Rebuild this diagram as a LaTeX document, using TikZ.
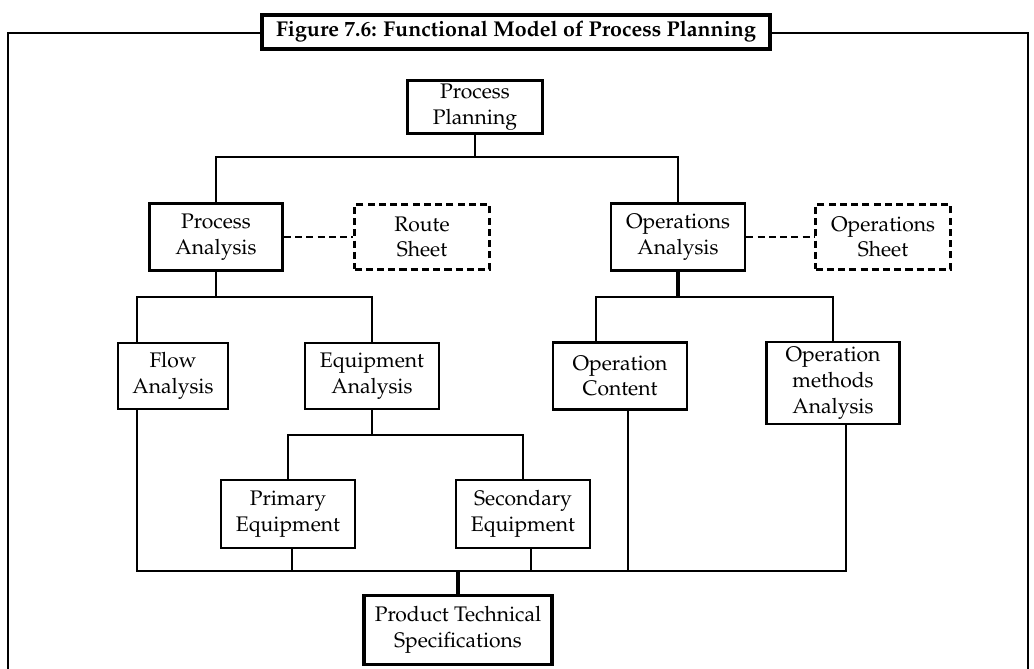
\documentclass[tikz,border=0pt]{standalone}
\usepackage[T1]{fontenc}
\usepackage{mathpazo}
\usepackage{tikz}
\usetikzlibrary{positioning, calc}

\begin{document}
\begin{tikzpicture}[x=0.02cm, y=-0.02cm,
    box/.style={draw, line width=1.5pt, fill=white, align=center, inner sep=0pt,
                font=\fontsize{12}{14.7}\selectfont},
    sheetbox/.style={box, dash pattern=on 4pt off 2.4pt},
    conn/.style={line width=1.5pt},
    thickconn/.style={line width=2.3pt},
    dashconn/.style={line width=1.5pt, dash pattern=on 4pt off 2.4pt}]
    \useasboundingbox (0,0) rectangle (1034,669);

    % outer frame
    \draw[conn] (8,669) -- (8,33) -- (1028,33) -- (1028,669);
    \node[box, line width=1.9pt, minimum width=10.16cm, minimum height=0.68cm,
          font=\fontsize{12.2}{14}\selectfont\bfseries] (title) at (516,32)
          {Figure 7.6: Functional Model of Process Planning};

    \node[box, minimum width=2.7cm, minimum height=1.06cm] (plan) at (475,107) {Process\\Planning};

    \node[box, minimum width=2.66cm, minimum height=1.34cm] (procan) at (216,237) {Process\\Analysis};
    \node[sheetbox, minimum width=2.7cm, minimum height=1.3cm] (route) at (422,237) {Route\\Sheet};
    \node[box, minimum width=2.68cm, minimum height=1.34cm] (opsan) at (678,237) {Operations\\Analysis};
    \node[sheetbox, minimum width=2.7cm, minimum height=1.3cm] (opsheet) at (883,237) {Operations\\Sheet};

    \node[box, minimum width=2.2cm, minimum height=1.32cm] (flow) at (173,376) {Flow\\Analysis};
    \node[box, minimum width=2.68cm, minimum height=1.32cm] (equip) at (372,376) {Equipment\\Analysis};
    \node[box, minimum width=2.68cm, minimum height=1.34cm] (opcont) at (620,376) {Operation\\Content};
    \node[box, minimum width=2.66cm, minimum height=1.64cm] (opmeth) at (833,383) {Operation\\methods\\Analysis};

    \node[box, minimum width=2.68cm, minimum height=1.36cm] (prim) at (288,514) {Primary\\Equipment};
    \node[box, minimum width=2.68cm, minimum height=1.36cm] (sec) at (523,514) {Secondary\\Equipment};

    \node[box, line width=1.9pt, minimum width=3.76cm, minimum height=1.38cm] (spec) at (458,630)
          {Product Technical\\Specifications};

    % junction points
    \coordinate (b1) at (475,157);
    \coordinate (b2) at (216,297);
    \coordinate (fl) at (137,297);
    \coordinate (b3) at (678,297);
    \coordinate (b4) at (372,435);
    \coordinate (b5) at (458,571);
    \coordinate (oc) at (628,571);
    \coordinate (om) at (846,571);

    \draw[conn] (plan.south) -- (b1);
    \draw[conn] (procan.north) |- (b1) -| (opsan.north);

    \draw[conn] (procan.south) -- (b2);
    \draw[conn] (fl |- flow.north) -- (fl) -| (equip.north);

    \draw[thickconn] (opsan.south) -- (b3);
    \draw[conn] ([xshift=-0.48cm]opcont.north) |- (b3) -| (opmeth.north);

    \draw[conn] (equip.south) -- (b4);
    \draw[conn] (prim.north) |- (b4) -| (sec.north);

    \draw[dashconn] (procan.east) -- (route.west);
    \draw[dashconn] (opsan.east) -- (opsheet.west);

    % bottom collector
    \draw[conn] (fl |- flow.south) |- (om) -- (om |- opmeth.south);
    \draw[conn] ([xshift=0.08cm]prim.south) -- ([xshift=0.08cm]prim.south |- b5);
    \draw[conn] ([xshift=0.16cm]sec.south) -- ([xshift=0.16cm]sec.south |- b5);
    \draw[conn] (oc |- opcont.south) -- (oc);
    \draw[thickconn] (spec.north) -- (b5);
\end{tikzpicture}
\end{document}
